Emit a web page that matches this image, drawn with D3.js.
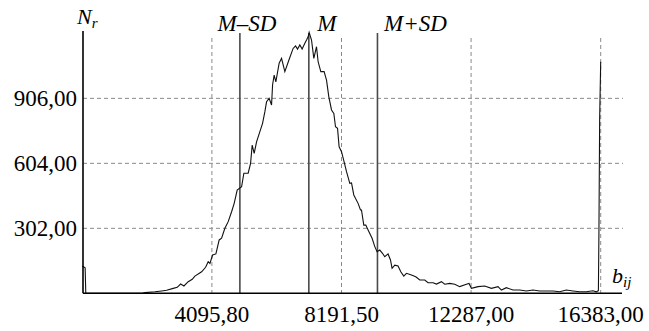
<!DOCTYPE html>
<html><head><meta charset="utf-8"><script src="https://cdn.jsdelivr.net/npm/d3@7"></script></head>
<body style="margin:0">
<svg id="chart" width="649" height="331"></svg>
<script>
// brightness values b_ij and counts N_r
const bValues = [0, 90, 110, 1900, 1980, 2296, 2507, 2665, 2874, 3000, 3107, 3212, 3347, 3474, 3559, 3771, 3897, 3979, 4033,
  4118, 4222, 4326, 4402, 4506, 4611, 4718, 4800, 4895, 5034, 5106, 5242, 5318, 5369, 5432, 5507, 5612, 5697, 5770,
  5823, 5905, 5981, 6013, 6063, 6117, 6221, 6297, 6401, 6530, 6663, 6739, 6802, 6875, 6947, 7033, 7087, 7137, 7169,
  7244, 7317, 7402, 7453, 7538, 7642, 7718, 7791, 7876, 7949, 8002, 8066, 8116, 8192, 8274, 8350, 8454, 8508, 8580,
  8716, 8792, 8823, 8896, 8959, 9032, 9158, 9244, 9316, 9401, 9487, 9559, 9663, 9739, 9790, 9875, 9979, 10065, 10159,
  10245, 10402, 10538, 10665, 10823, 10927, 11085, 11192, 11350, 11454, 11612, 11770, 11928, 12139, 12221, 12297,
  12506, 12717, 12929, 13137, 13245, 13402, 13611, 13823, 14034, 14242, 14454, 14666, 14874, 15086, 15297, 15506,
  15718, 15929, 16137, 16245, 16310, 16327, 16350, 16383];
const counts = [127, 118, 0, 0, 3, 7, 11, 14, 23, 28, 43, 34, 54, 65, 80, 100, 121, 147, 139,
  178, 183, 248, 256, 302, 333, 379, 418, 480, 495, 558, 558, 604, 689, 650, 704, 751, 790, 844,
  890, 906, 875, 968, 1014, 983, 1069, 1092, 1030, 1084, 1138, 1150, 1135, 1154, 1135, 1162, 1177, 1192, 1213,
  1177, 1092, 1146, 1076, 1030, 1030, 991, 913, 852, 836, 774, 767, 681, 658, 611, 565, 511, 513, 457,
  418, 387, 387, 317, 317, 294, 256, 217, 193, 201, 186, 170, 183, 155, 116, 131, 127, 100, 80,
  93, 85, 77, 62, 62, 49, 49, 43, 54, 42, 46, 42, 31, 42, 46, 23,
  31, 34, 23, 31, 15, 26, 15, 15, 11, 15, 11, 11, 11, 7, 15, 11,
  7, 7, 12, 7, 12, 279, 813, 1076];

const xTicks = [4095.8, 8191.5, 12287, 16383];
const xTickLabels = ["4095,80", "8191,50", "12287,00", "16383,00"];
const yTicks = [302, 604, 906];
const yTickLabels = ["302,00", "604,00", "906,00"];

const markNames = ["M–SD", "M", "M+SD"];
const markValues = [4980, 7159, 9328];

const svg = d3.select("#chart");

const xScale = d3.scaleLinear().domain([0, 16383]).range([82.3, 600.7]);
const yScale = d3.scaleLinear().domain([0, 1219]).range([293.3, 31]);

const x0 = 83, xEnd = 622, y0 = 293.3;

// grid
svg.selectAll(".hgrid").data(yTicks).enter().append("line")
  .attr("x1", x0).attr("x2", xEnd + 1)
  .attr("y1", d => yScale(d)).attr("y2", d => yScale(d))
  .attr("stroke", "#8a8a8a").attr("stroke-width", 1).attr("stroke-dasharray", "4,3");
svg.selectAll(".vgrid").data(xTicks).enter().append("line")
  .attr("x1", d => xScale(d)).attr("x2", d => xScale(d))
  .attr("y1", 38).attr("y2", y0)
  .attr("stroke", "#8a8a8a").attr("stroke-width", 1).attr("stroke-dasharray", "4,3");

// M, M±SD lines
svg.selectAll(".mline").data(markValues).enter().append("line")
  .attr("x1", d => xScale(d)).attr("x2", d => xScale(d))
  .attr("y1", 33).attr("y2", y0)
  .attr("stroke", "#4a4a4a").attr("stroke-width", 1.6);

const markDx = [7, 18, 38];
svg.selectAll(".mlabel").data(markNames).enter().append("text")
  .attr("x", (d, i) => xScale(markValues[i]) + markDx[i])
  .attr("y", 31)
  .attr("text-anchor", "middle")
  .attr("font-family", d => "Liberation Serif")
  .style("font-family", "'Liberation Serif', serif")
  .attr("font-style", "italic")
  .attr("font-size", 23)
  .text(d => d);

// histogram line
const line = d3.line().x((d, i) => xScale(bValues[i])).y(d => yScale(d));
svg.append("path").datum(counts)
  .attr("d", line)
  .attr("fill", "none").attr("stroke", "#111").attr("stroke-width", 1.1);

// axes
svg.append("line").attr("x1", x0).attr("x2", x0).attr("y1", 31).attr("y2", y0)
  .attr("stroke", "#000").attr("stroke-width", 1.6);
svg.append("line").attr("x1", x0).attr("x2", xEnd).attr("y1", y0).attr("y2", y0)
  .attr("stroke", "#000").attr("stroke-width", 1.6);

// tick labels
svg.selectAll(".xlab").data(xTicks).enter().append("text")
  .attr("x", d => xScale(d)).attr("y", 321.5)
  .attr("text-anchor", "middle").attr("font-size", 23)
  .attr("font-family", d => "Liberation Serif")
  .style("font-family", "'Liberation Serif', serif")
  .text((d, i) => xTickLabels[i]);
svg.selectAll(".ylab").data(yTicks).enter().append("text")
  .attr("x", 77).attr("y", d => yScale(d) + 7.7)
  .attr("text-anchor", "end").attr("font-size", 23)
  .attr("font-family", d => "Liberation Serif")
  .style("font-family", "'Liberation Serif', serif")
  .text((d, i) => yTickLabels[i]);

// axis titles
const nt = svg.append("text").attr("x", 77).attr("y", 24)
  .attr("font-family", "Liberation Serif").style("font-family", "'Liberation Serif', serif")
  .attr("font-style", "italic").attr("font-size", 22);
nt.append("tspan").text("N");
nt.append("tspan").attr("font-size", 15).attr("dy", 4).text("r");

const bt = svg.append("text").attr("x", 612).attr("y", 283)
  .attr("font-family", "Liberation Serif").style("font-family", "'Liberation Serif', serif")
  .attr("font-style", "italic").attr("font-size", 22);
bt.append("tspan").text("b");
bt.append("tspan").attr("font-size", 15).attr("dy", 4).text("ij");
</script>
</body>
</html>
